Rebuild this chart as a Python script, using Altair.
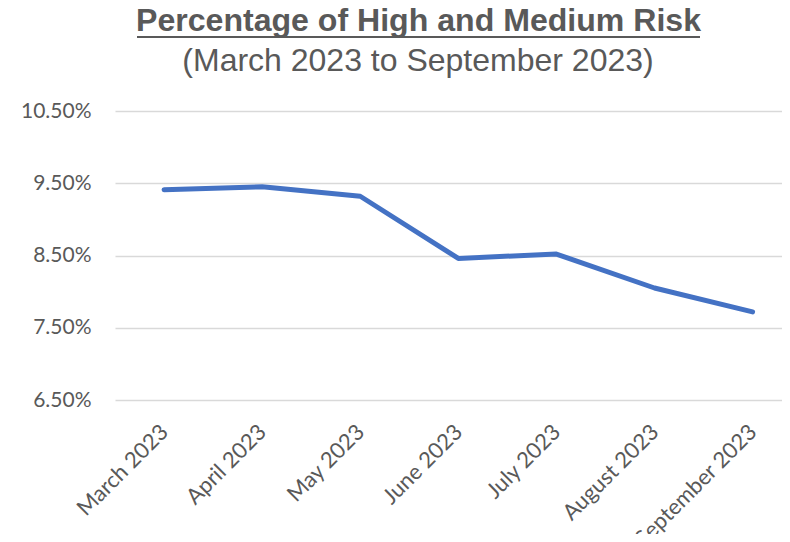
import json
import altair as alt
import pandas as pd

months = ["March 2023", "April 2023", "May 2023", "June 2023",
          "July 2023", "August 2023", "September 2023"]
pct = [9.41, 9.45, 9.32, 8.46, 8.52, 8.05, 7.72]
y_ticks = [6.5, 7.5, 8.5, 9.5, 10.5]

df = pd.DataFrame({"idx": list(range(len(months))), "month": months, "pct": pct})

GRAY = "#595959"
LBL_FONT = "Lato"
month_expr = json.dumps(months) + "[datum.value]"

line = alt.Chart(df).mark_line(
    color="#4472C4", strokeWidth=5, strokeCap="round", strokeJoin="round"
).encode(
    x=alt.X("idx:Q", title=None,
            scale=alt.Scale(domain=[-0.5, 6.3], nice=False, zero=False),
            axis=alt.Axis(values=list(range(len(months))), labelExpr=month_expr,
                          labelAngle=-45, labelAlign="right", labelBaseline="middle",
                          labelFont=LBL_FONT, labelFontSize=22, labelColor=GRAY,
                          labelPadding=28, labelFlush=False, labelOverlap=False,
                          domain=False, ticks=False, grid=False)),
    y=alt.Y("pct:Q", title=None,
            scale=alt.Scale(domain=[6.5, 10.5], nice=False, zero=False),
            axis=alt.Axis(values=y_ticks, labelExpr="format(datum.value, '.2f') + '%'",
                          labelFont=LBL_FONT, labelFontSize=21, labelColor=GRAY,
                          labelPadding=24, domain=False, ticks=False,
                          grid=True, gridColor="#D9D9D9", gridWidth=1.5)),
)

one = pd.DataFrame({"a": [0]})
title = alt.Chart(one).mark_text(
    text="Percentage of High and Medium Risk", font="Liberation Sans",
    fontSize=32.1, fontWeight="bold", color=GRAY, align="center", baseline="alphabetic"
).encode(x=alt.value(303.5), y=alt.value(-80))

subtitle = alt.Chart(one).mark_text(
    text="(March 2023 to September 2023)", font="Liberation Sans",
    fontSize=32, color=GRAY, align="center", baseline="alphabetic"
).encode(x=alt.value(303), y=alt.value(-40))

underline = alt.Chart(one).mark_rule(
    color=GRAY, strokeWidth=2
).encode(x=alt.value(22), x2=alt.value(585), y=alt.value(-74))

chart = alt.layer(line, title, subtitle, underline).properties(
    width=667, height=289,
    autosize=alt.AutoSizeParams(type="none"),
    padding={"left": 107, "top": 103, "right": 0, "bottom": 134},
    view=alt.ViewBackground(stroke="transparent", strokeWidth=0),
).configure_view(stroke="transparent", strokeWidth=0).configure(background="white")

chart.save("out.html", embed_options={"renderer": "svg", "actions": False})
